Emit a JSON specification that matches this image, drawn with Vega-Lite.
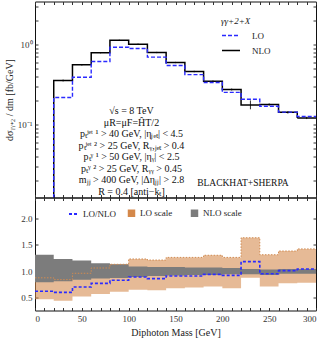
{
  "$schema": "https://vega.github.io/schema/vega-lite/v6.json",
  "padding": {"left": 3, "top": 0.5, "right": 8.5, "bottom": 8},
  "background": "white",
  "bounds": "flush",
  "spacing": 0,
  "config": {
    "view": {"stroke": "#111", "strokeWidth": 1},
    "font": "Liberation Serif",
    "axis": {"domain": false, "grid": false, "tickColor": "#333", "tickSize": -3, "labelPadding": 6, "labelFont": "Liberation Serif", "labelFontSize": 9, "labelColor": "#333", "titleFont": "Liberation Serif", "titleFontWeight": "normal", "titleFontSize": 10, "titleColor": "#222"},
    "legend": {"labelFont": "Liberation Serif", "labelFontSize": 9, "labelColor": "#222", "titleFont": "Liberation Serif", "titleFontWeight": "normal", "titleColor": "#222"}
  },
  "datasets": {
    "hist": [
      {"m": 0, "v": 0.005, "series": "NLO"}, {"m": 20, "v": 0.355, "series": "NLO"}, {"m": 40, "v": 0.557, "series": "NLO"}, {"m": 60, "v": 0.787, "series": "NLO"},
      {"m": 80, "v": 1.13, "series": "NLO"}, {"m": 100, "v": 1.01, "series": "NLO"}, {"m": 120, "v": 0.794, "series": "NLO"}, {"m": 140, "v": 0.596, "series": "NLO"},
      {"m": 160, "v": 0.46, "series": "NLO"}, {"m": 180, "v": 0.348, "series": "NLO"}, {"m": 200, "v": 0.274, "series": "NLO"}, {"m": 220, "v": 0.176, "series": "NLO"},
      {"m": 240, "v": 0.178, "series": "NLO"}, {"m": 260, "v": 0.142, "series": "NLO"}, {"m": 280, "v": 0.121, "series": "NLO"}, {"m": 300, "v": 0.121, "series": "NLO"},
      {"m": 0, "v": 0.0031, "series": "LO"}, {"m": 20, "v": 0.218, "series": "LO"}, {"m": 40, "v": 0.39, "series": "LO"}, {"m": 60, "v": 0.613, "series": "LO"},
      {"m": 80, "v": 0.926, "series": "LO"}, {"m": 100, "v": 0.89, "series": "LO"}, {"m": 120, "v": 0.695, "series": "LO"}, {"m": 140, "v": 0.546, "series": "LO"},
      {"m": 160, "v": 0.42, "series": "LO"}, {"m": 180, "v": 0.335, "series": "LO"}, {"m": 200, "v": 0.252, "series": "LO"}, {"m": 220, "v": 0.207, "series": "LO"},
      {"m": 240, "v": 0.169, "series": "LO"}, {"m": 260, "v": 0.143, "series": "LO"}, {"m": 280, "v": 0.126, "series": "LO"}, {"m": 300, "v": 0.126, "series": "LO"}
    ],
    "err": [
      {"m": 30, "lo": 0.345, "hi": 0.365}, {"m": 50, "lo": 0.545, "hi": 0.57}, {"m": 70, "lo": 0.775, "hi": 0.8}, {"m": 90, "lo": 1.11, "hi": 1.15},
      {"m": 110, "lo": 0.99, "hi": 1.03}, {"m": 130, "lo": 0.78, "hi": 0.81}, {"m": 150, "lo": 0.585, "hi": 0.607}, {"m": 170, "lo": 0.45, "hi": 0.47},
      {"m": 190, "lo": 0.34, "hi": 0.356}, {"m": 210, "lo": 0.266, "hi": 0.282}, {"m": 230, "lo": 0.155, "hi": 0.2}, {"m": 250, "lo": 0.172, "hi": 0.184},
      {"m": 270, "lo": 0.137, "hi": 0.147}, {"m": 290, "lo": 0.117, "hi": 0.125}
    ],
    "scale": [
      {"m": 0, "lo": 0.47, "hi": 0.875, "series": "LO scale"}, {"m": 20, "lo": 0.44, "hi": 0.84, "series": "LO scale"}, {"m": 40, "lo": 0.52, "hi": 0.96, "series": "LO scale"},
      {"m": 60, "lo": 0.57, "hi": 1.06, "series": "LO scale"}, {"m": 80, "lo": 0.61, "hi": 1.13, "series": "LO scale"}, {"m": 100, "lo": 0.65, "hi": 1.23, "series": "LO scale"},
      {"m": 120, "lo": 0.64, "hi": 1.21, "series": "LO scale"}, {"m": 140, "lo": 0.68, "hi": 1.26, "series": "LO scale"}, {"m": 160, "lo": 0.69, "hi": 1.26, "series": "LO scale"},
      {"m": 180, "lo": 0.71, "hi": 1.3, "series": "LO scale"}, {"m": 200, "lo": 0.68, "hi": 1.26, "series": "LO scale"}, {"m": 220, "lo": 0.875, "hi": 1.63, "series": "LO scale"},
      {"m": 240, "lo": 0.71, "hi": 1.31, "series": "LO scale"}, {"m": 260, "lo": 0.77, "hi": 1.38, "series": "LO scale"}, {"m": 280, "lo": 0.78, "hi": 1.42, "series": "LO scale"},
      {"m": 300, "lo": 0.78, "hi": 1.42, "series": "LO scale"},
      {"m": 0, "lo": 0.79, "hi": 1.31, "series": "NLO scale"}, {"m": 20, "lo": 0.81, "hi": 1.23, "series": "NLO scale"}, {"m": 40, "lo": 0.84, "hi": 1.2, "series": "NLO scale"},
      {"m": 60, "lo": 0.86, "hi": 1.15, "series": "NLO scale"}, {"m": 80, "lo": 0.87, "hi": 1.13, "series": "NLO scale"}, {"m": 100, "lo": 0.89, "hi": 1.09, "series": "NLO scale"},
      {"m": 120, "lo": 0.91, "hi": 1.08, "series": "NLO scale"}, {"m": 140, "lo": 0.92, "hi": 1.08, "series": "NLO scale"}, {"m": 160, "lo": 0.93, "hi": 1.07, "series": "NLO scale"},
      {"m": 180, "lo": 0.93, "hi": 1.07, "series": "NLO scale"}, {"m": 200, "lo": 0.94, "hi": 1.06, "series": "NLO scale"}, {"m": 220, "lo": 0.94, "hi": 1.04, "series": "NLO scale"},
      {"m": 240, "lo": 0.93, "hi": 1.03, "series": "NLO scale"}, {"m": 260, "lo": 0.95, "hi": 1.04, "series": "NLO scale"}, {"m": 280, "lo": 0.95, "hi": 1.04, "series": "NLO scale"},
      {"m": 300, "lo": 0.95, "hi": 1.04, "series": "NLO scale"}
    ],
    "ratio": [
      {"m": 0, "r": 0.62, "series": "LO/NLO"}, {"m": 20, "r": 0.6, "series": "LO/NLO"}, {"m": 40, "r": 0.7, "series": "LO/NLO"}, {"m": 60, "r": 0.77, "series": "LO/NLO"},
      {"m": 80, "r": 0.83, "series": "LO/NLO"}, {"m": 100, "r": 0.89, "series": "LO/NLO"}, {"m": 120, "r": 0.86, "series": "LO/NLO"}, {"m": 140, "r": 0.91, "series": "LO/NLO"},
      {"m": 160, "r": 0.91, "series": "LO/NLO"}, {"m": 180, "r": 0.94, "series": "LO/NLO"}, {"m": 200, "r": 0.92, "series": "LO/NLO"}, {"m": 220, "r": 1.18, "series": "LO/NLO"},
      {"m": 240, "r": 0.95, "series": "LO/NLO"}, {"m": 260, "r": 1.01, "series": "LO/NLO"}, {"m": 280, "r": 1.04, "series": "LO/NLO"}, {"m": 300, "r": 1.04, "series": "LO/NLO"}
    ]
  },
  "vconcat": [
    {
      "width": 281,
      "height": 196,
      "layer": [
        {
          "data": {"name": "hist"},
          "transform": [{"filter": "datum.series === 'NLO'"}],
          "mark": {"type": "line", "interpolate": "step-after", "strokeWidth": 1.5, "clip": true},
          "encoding": {
            "x": {"field": "m", "type": "quantitative", "scale": {"domain": [0, 300], "nice": false},
              "axis": {"orient": "bottom", "values": [0,10,20,30,40,50,60,70,80,90,100,110,120,130,140,150,160,170,180,190,200,210,220,230,240,250,260,270,280,290,300], "labels": false, "title": null}},
            "y": {"field": "v", "type": "quantitative", "scale": {"type": "log", "domain": [0.01224, 3.45], "nice": false},
              "axis": {"orient": "left", "values": [0.02,0.03,0.04,0.05,0.06,0.07,0.08,0.09,0.1,0.2,0.3,0.4,0.5,0.6,0.7,0.8,0.9,1,2,3],
                "labelExpr": "datum.value == 1 ? '10⁰' : (datum.value == 0.1 ? '10⁻¹' : '')", "title": "dσᵧᵧ₊₂ / dm  [fb/GeV]", "titleX": -26, "titleBaseline": "middle"}},
            "color": {"field": "series", "type": "nominal", "scale": {"domain": ["LO", "NLO"], "range": ["#2a2aff", "#000000"]},
              "legend": {"orient": "none", "legendX": 186, "legendY": 15, "title": "γγ+2+X", "titleFontStyle": "italic", "titleFontSize": 9, "titlePadding": 0, "symbolType": "stroke", "symbolSize": 324, "symbolStrokeWidth": 1.5, "labelOffset": 11, "rowPadding": -4}},
            "strokeDash": {"field": "series", "type": "nominal", "scale": {"domain": ["LO", "NLO"], "range": [[4, 2], [1, 0]]},
              "legend": {"orient": "none", "legendX": 186, "legendY": 15, "title": "γγ+2+X", "titleFontStyle": "italic", "titleFontSize": 9, "titlePadding": 0, "symbolType": "stroke", "symbolSize": 324, "symbolStrokeWidth": 1.5, "labelOffset": 11, "rowPadding": -4}}
          }
        },
        {
          "data": {"name": "hist"},
          "transform": [{"filter": "datum.series === 'LO'"}],
          "mark": {"type": "line", "interpolate": "step-after", "strokeWidth": 1.4, "clip": true},
          "encoding": {
            "x": {"field": "m", "type": "quantitative", "scale": {"domain": [0, 300], "nice": false},
              "axis": {"orient": "top", "values": [0,10,20,30,40,50,60,70,80,90,100,110,120,130,140,150,160,170,180,190,200,210,220,230,240,250,260,270,280,290,300], "labels": false, "title": null}},
            "y": {"field": "v", "type": "quantitative", "scale": {"type": "log", "domain": [0.01224, 3.45], "nice": false},
              "axis": {"orient": "right", "values": [0.02,0.03,0.04,0.05,0.06,0.07,0.08,0.09,0.1,0.2,0.3,0.4,0.5,0.6,0.7,0.8,0.9,1,2,3], "labels": false, "title": null}},
            "color": {"field": "series", "type": "nominal", "scale": {"domain": ["LO", "NLO"], "range": ["#2a2aff", "#000000"]}},
            "strokeDash": {"field": "series", "type": "nominal", "scale": {"domain": ["LO", "NLO"], "range": [[4, 2], [1, 0]]}}
          }
        },
        {
          "data": {"name": "err"},
          "mark": {"type": "rule", "color": "#000", "strokeWidth": 0.8, "clip": true},
          "encoding": {
            "x": {"field": "m", "type": "quantitative", "axis": null},
            "y": {"field": "lo", "type": "quantitative", "axis": null},
            "y2": {"field": "hi"}
          }
        },
        {
          "data": {"values": [{"label": "cuts"}]},
          "mark": {"type": "text", "align": "center", "baseline": "alphabetic", "font": "Liberation Serif", "fontSize": 10, "lineHeight": 11.5, "color": "#111",
            "text": ["√s = 8 TeV", "μR=μF=ĤT/2", "pₜʲᵉᵗ ¹ > 40 GeV, |ηⱼₑₜ| < 4.5", "pₜʲᵉᵗ ² > 25 GeV, Rᵧ,ⱼₑₜ > 0.4", "pₜᵞ ¹ > 50 GeV, |ηᵧ| < 2.5", "pₜᵞ ² > 25 GeV, Rᵧᵧ > 0.45", "mⱼⱼ > 400 GeV, |Δηⱼⱼ| > 2.8", "R = 0.4 [anti−kₜ]"]},
          "encoding": {
            "x": {"datum": 103, "type": "quantitative", "axis": null},
            "y": {"datum": 0.134, "type": "quantitative", "axis": null}
          }
        },
        {
          "data": {"values": [{"label": "bh"}]},
          "mark": {"type": "text", "align": "center", "baseline": "alphabetic", "font": "Liberation Serif", "fontSize": 9.5, "color": "#111", "text": "BLACKHAT+SHERPA"},
          "encoding": {
            "x": {"datum": 222, "type": "quantitative", "axis": null},
            "y": {"datum": 0.0168, "type": "quantitative", "axis": null}
          }
        }
      ]
    },
    {
      "width": 281,
      "height": 113,
      "layer": [
        {
          "data": {"name": "scale"},
          "transform": [{"filter": "datum.series === 'LO scale'"}],
          "mark": {"type": "area", "interpolate": "step-after", "fillOpacity": 0.58, "clip": true},
          "encoding": {
            "x": {"field": "m", "type": "quantitative", "scale": {"domain": [0, 300], "nice": false},
              "axis": {"orient": "bottom", "values": [0,10,20,30,40,50,60,70,80,90,100,110,120,130,140,150,160,170,180,190,200,210,220,230,240,250,260,270,280,290,300],
                "labelExpr": "datum.value % 50 === 0 ? format(datum.value, 'd') : ''", "labelPadding": 7, "title": "Diphoton Mass  [GeV]", "titleY": 21.5, "titleBaseline": "middle"}},
            "y": {"field": "lo", "type": "quantitative", "scale": {"domain": [0.258, 2.39], "nice": false},
              "axis": {"orient": "left", "values": [0.5, 1, 1.5, 2], "format": ".1f", "title": null}},
            "y2": {"field": "hi"},
            "fill": {"field": "series", "type": "nominal", "scale": {"domain": ["LO scale", "NLO scale"], "range": ["#d4884a", "#7c7c7c"]},
              "legend": {"orient": "none", "legendX": 92, "legendY": 11, "direction": "horizontal", "title": null, "symbolType": "square", "symbolSize": 56, "symbolStrokeWidth": 0, "labelOffset": 4, "columnPadding": 17}}
          }
        },
        {
          "data": {"name": "scale"},
          "transform": [{"filter": "datum.series === 'NLO scale'"}],
          "mark": {"type": "area", "interpolate": "step-after", "fillOpacity": 1, "clip": true},
          "encoding": {
            "x": {"field": "m", "type": "quantitative", "axis": null},
            "y": {"field": "lo", "type": "quantitative", "axis": null},
            "y2": {"field": "hi"},
            "fill": {"field": "series", "type": "nominal", "scale": {"domain": ["LO scale", "NLO scale"], "range": ["#d4884a", "#7c7c7c"]}}
          }
        },
        {
          "data": {"name": "scale"},
          "transform": [{"filter": "datum.series === 'LO scale'"}],
          "mark": {"type": "line", "interpolate": "step-after", "stroke": "#d08a50", "strokeDash": [1.5, 1.5], "strokeWidth": 1, "clip": true},
          "encoding": {
            "x": {"field": "m", "type": "quantitative", "axis": null},
            "y": {"field": "hi", "type": "quantitative", "axis": null}
          }
        },
        {
          "data": {"name": "ratio"},
          "mark": {"type": "line", "interpolate": "step-after", "strokeWidth": 1.6, "clip": true},
          "encoding": {
            "x": {"field": "m", "type": "quantitative", "scale": {"domain": [0, 300], "nice": false},
              "axis": {"orient": "top", "values": [0,10,20,30,40,50,60,70,80,90,100,110,120,130,140,150,160,170,180,190,200,210,220,230,240,250,260,270,280,290,300], "labels": false, "title": null}},
            "y": {"field": "r", "type": "quantitative", "scale": {"domain": [0.258, 2.39], "nice": false},
              "axis": {"orient": "right", "values": [0.5, 1, 1.5, 2], "labels": false, "title": null}},
            "color": {"field": "series", "type": "nominal", "scale": {"domain": ["LO/NLO"], "range": ["#2a2aff"]},
              "legend": {"orient": "none", "legendX": 33, "legendY": 11, "direction": "horizontal", "title": null, "symbolType": "stroke", "symbolSize": 81, "symbolStrokeWidth": 1.8, "labelOffset": 4}},
            "strokeDash": {"field": "series", "type": "nominal", "scale": {"domain": ["LO/NLO"], "range": [[3, 2]]},
              "legend": {"orient": "none", "legendX": 33, "legendY": 11, "direction": "horizontal", "title": null, "symbolType": "stroke", "symbolSize": 81, "symbolStrokeWidth": 1.8, "labelOffset": 4}}
          }
        }
      ]
    }
  ],
  "resolve": {
    "scale": {"x": "independent", "y": "independent", "color": "independent", "strokeDash": "independent", "fill": "independent"},
    "legend": {"color": "independent", "strokeDash": "independent", "fill": "independent"}
  }
}
